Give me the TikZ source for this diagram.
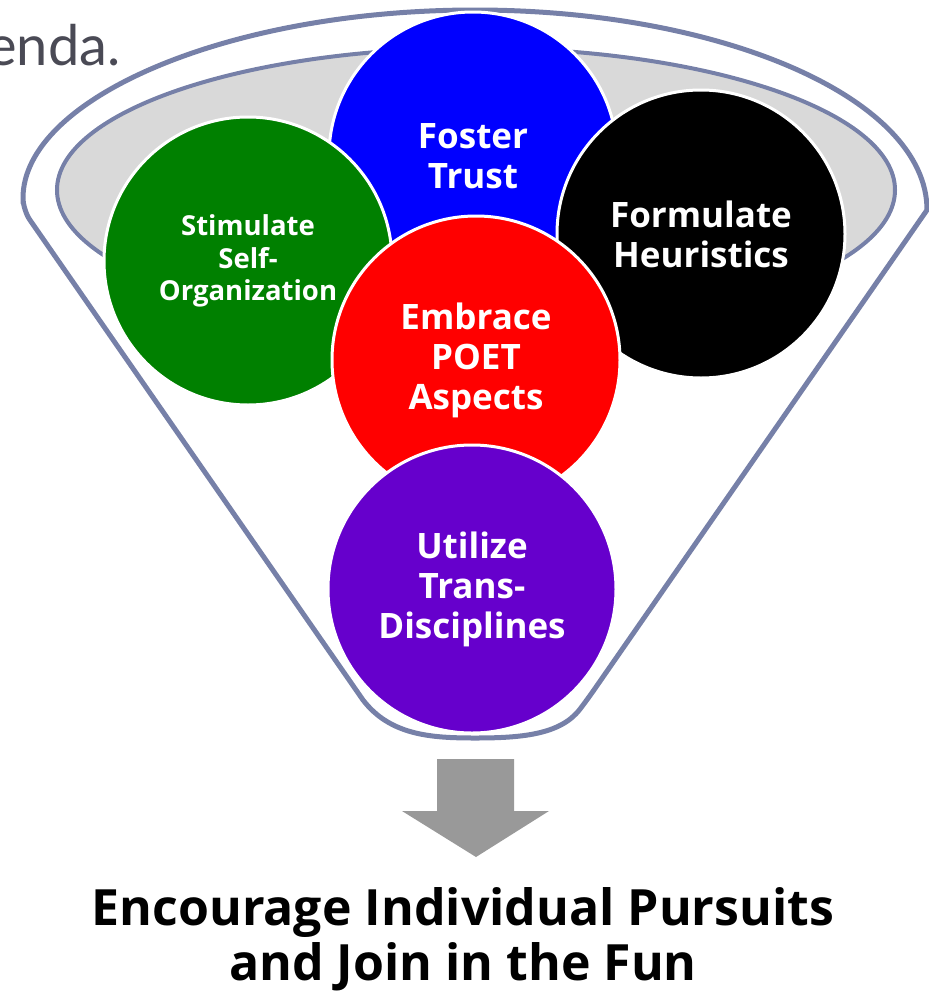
\documentclass[tikz,border=0pt]{standalone}
\usepackage{fontspec}
\setmainfont{Lato}
\newfontfamily\ballfont[Ligatures=NoCommon]{Open Sans}
\definecolor{rim}{HTML}{7680A8}
\definecolor{bowl}{HTML}{D9D9D9}
\definecolor{arrowgray}{HTML}{999999}
\definecolor{plum}{HTML}{6600CC}
\definecolor{slate}{HTML}{4A4A55}
\begin{document}
\begin{tikzpicture}[x=1pt, y=-1pt,
    ball/.style={circle, draw=white, line width=3pt, minimum size=288pt, inner sep=0pt,
      align=center, text=white, font=\ballfont\fontsize{35}{40}\selectfont\bfseries}]
  \useasboundingbox (0,0) rectangle (929,991);
  \node[anchor=base east, text=slate, font=\fontsize{56}{60}\selectfont] (agenda) at (124,65) {enda.};
  % funnel
  \draw[rim, line width=5pt, line join=round]
    (23,210) arc[start angle=180, end angle=360, x radius=452, y radius=200]
    [rounded corners=12pt] -- (587,700) [sharp corners] .. controls (560,735) and (520,738) .. (475,738)
    .. controls (430,738) and (390,735) .. (363,700) [rounded corners=12pt] -- (23,210) -- cycle;
  \draw[rim, line width=4pt, fill=bowl] (476,190) ellipse[x radius=419, y radius=142];
  % circles
  \node[ball, fill=blue] (trust) at (473,156) {Foster\\Trust};
  \node[ball, fill=green!50!black, font=\ballfont\fontsize{27.5}{32.5}\selectfont\bfseries] (selforg) at (248,261) {Stimulate\\Self-\\Organization};
  \node[ball, fill=black] (heur) at (701,234) {Formulate\\Heuristics};
  \node[ball, fill=red] (poet) at (476,360) {Embrace\\POET\\Aspects};
  \node[ball, fill=plum] (trans) at (472,589) {Utilize\\Trans-\\Disciplines};
  % result
  \fill[arrowgray] (437,759) -- (514,759) -- (514,811) -- (549,811) -- (476,857)
    -- (402,811) -- (437,811) -- cycle;
  \node[align=center, inner sep=0pt, font=\ballfont\fontsize{50}{55}\selectfont\bfseries] (goal) at (463,939)
    {Encourage Individual Pursuits\\and Join in the Fun};
\end{tikzpicture}
\end{document}
